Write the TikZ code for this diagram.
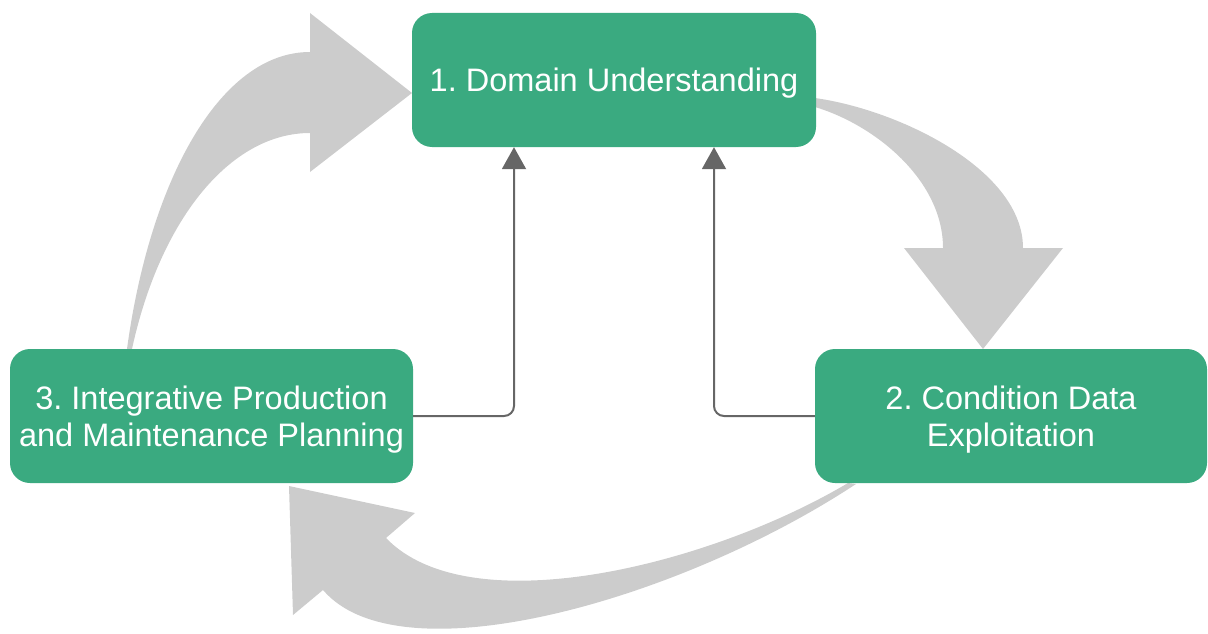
\documentclass[tikz,border=0pt]{standalone}
\usepackage{fontspec}
\setmainfont{Liberation Sans}
\usetikzlibrary{arrows.meta,calc}
\frenchspacing

\definecolor{phasegreen}{RGB}{58,170,128}
\definecolor{flowgray}{RGB}{204,204,204}
\definecolor{linkgray}{RGB}{102,102,102}

\tikzset{
  phase/.style={rectangle, rounded corners=20pt, fill=phasegreen, text=white,
    minimum height=134pt, inner sep=0pt, align=center, text depth=0pt,
    font=\fontsize{32.5}{37}\selectfont},
  bigflow/.style={fill=flowgray, draw=none},
  feedback/.style={draw=linkgray, line width=2pt, rounded corners=10pt,
    -{Triangle[length=22pt,width=24pt]}}
}

\begin{document}
\begin{tikzpicture}[x=1pt,y=-1pt]
\useasboundingbox (0,0) rectangle (1208,634);

% wide curved flow arrows (behind the boxes)
\fill[bigflow] (127,349) .. controls (150,180) and (220,52) .. (310,52)
  -- (310,13) -- (412,93) -- (310,172) -- (310,133)
  .. controls (230,133) and (160,220) .. (132,349) -- cycle;

\fill[bigflow] (815,98) .. controls (900,110) and (1023,170) .. (1023,248)
  -- (1063,248) -- (983,349) -- (904,248) -- (943,248)
  .. controls (943,180) and (875,125) .. (815,107) -- cycle;

\fill[bigflow] (848,483) .. controls (710,565) and (470,625) .. (386,538)
  -- (415,513) -- (289,486) -- (293,615) -- (323,590)
  .. controls (400,680) and (680,600) .. (856,484) -- cycle;

% phase boxes
\node[phase, minimum width=404pt] (dom) at (614,80) {1. Domain Understanding};
\node[phase, minimum width=392pt] (cond) at (1011,416) {2. Condition Data\\Exploitation};
\node[phase, minimum width=403pt] (plan) at (211.5,416) {3. Integrative Production\\and Maintenance Planning};

% feedback links back to domain understanding
\draw[feedback] (plan.east) -| ([xshift=-100pt]dom.south);
\draw[feedback] (cond.west) -| ([xshift=100pt]dom.south);
\end{tikzpicture}
\end{document}
